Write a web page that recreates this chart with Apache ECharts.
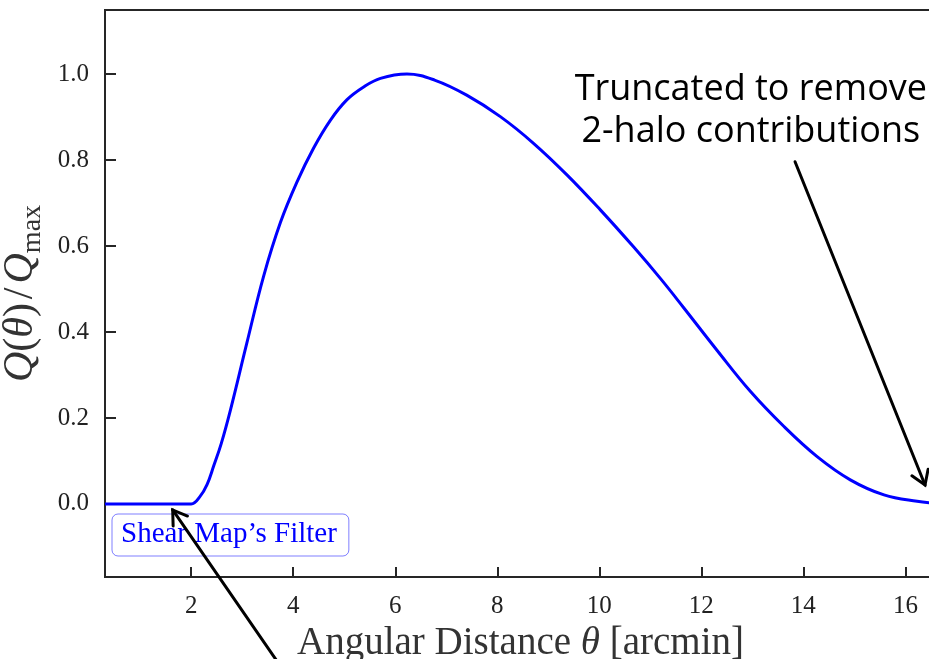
<!DOCTYPE html>
<html>
<head>
<meta charset="utf-8">
<script src="https://cdn.jsdelivr.net/npm/echarts@6/dist/echarts.min.js"></script>
<style>
  html, body { margin: 0; padding: 0; background: #ffffff; }
  #chart { width: 929px; height: 659px; }
</style>
</head>
<body>
<div id="chart"></div>
<script>
// Normalised filter profile Q(theta)/Q_max against angular distance (arcmin)
const theta = [0.31, 1.0, 1.6, 2.0, 2.17, 2.31, 2.44, 2.59, 2.77, 3.09, 3.42, 3.75, 4.07,
               4.40, 4.73, 5.05, 5.38, 5.71, 6.23, 6.77, 7.40, 8.06, 8.71, 9.37, 10.02,
               10.67, 11.20, 11.65, 12.31, 12.96, 13.62, 14.27, 14.92, 15.58, 16.23, 16.6];
const qNorm = [0.0, 0.0, 0.0, 0.0, 0.017, 0.045, 0.088, 0.141, 0.219, 0.374, 0.530, 0.655, 0.748,
               0.828, 0.893, 0.940, 0.970, 0.990, 1.000, 0.986, 0.951, 0.901, 0.839, 0.765, 0.684,
               0.598, 0.524, 0.457, 0.357, 0.262, 0.180, 0.110, 0.056, 0.021, 0.006, 0.002];
const xTicks = [2, 4, 6, 8, 10, 12, 14, 16];
const yTicks = [0.0, 0.2, 0.4, 0.6, 0.8, 1.0];
const seriesName = 'Shear Map\u2019s Filter';

const SERIF = "'Liberation Serif', 'DejaVu Serif', serif";
const SANS = "'Open Sans', 'Noto Sans', sans-serif";
const AXIS_COLOR = '#262626';
const TEXT_COLOR = '#333333';

const chart = echarts.init(document.getElementById('chart'), null, { renderer: 'canvas' });

const option = {
  animation: false,
  backgroundColor: '#ffffff',
  grid: {
    left: 105, top: 10, width: 831, height: 567,
    containLabel: false, outerBoundsMode: 'none',
    show: true, borderColor: AXIS_COLOR, borderWidth: 2, backgroundColor: 'transparent'
  },
  legend: {
    data: [seriesName],
    left: 112, top: 514,
    icon: 'none', itemWidth: 0, itemHeight: 10, itemGap: 0,
    selectedMode: false,
    padding: [6, 12, 7, 4],
    borderColor: 'rgba(0,0,255,0.5)', borderWidth: 1, borderRadius: 6,
    backgroundColor: 'rgba(255,255,255,0.8)',
    textStyle: { color: '#0000ff', fontFamily: SERIF, fontSize: 29 }
  },
  xAxis: {
    type: 'value', min: 0.31, max: 16.6,
    name: '{r|Angular Distance }{i|θ}{r| [arcmin]}',
    nameLocation: 'middle', nameGap: 38,
    nameTextStyle: {
      rich: {
        r: { fontFamily: SERIF, fontSize: 39, color: TEXT_COLOR },
        i: { fontFamily: SERIF, fontSize: 39, fontStyle: 'italic', color: TEXT_COLOR }
      }
    },
    axisLine: { show: true, onZero: false, lineStyle: { color: AXIS_COLOR, width: 2 } },
    axisTick: { show: true, inside: true, length: 10, customValues: xTicks,
                lineStyle: { color: AXIS_COLOR, width: 2 } },
    axisLabel: { customValues: xTicks, margin: 17, fontFamily: SERIF, fontSize: 25,
                 color: '#222222', formatter: v => String(Math.round(v)) },
    splitLine: { show: false }
  },
  yAxis: {
    type: 'value', min: -0.17, max: 1.149,
    name: '{i|Q}{r|(}{i|θ}{r|)}{sl|/}{i|Q}{s|max}',
    nameLocation: 'middle', nameGap: 56, nameRotate: 90,
    nameTextStyle: {
      rich: {
        r: { fontFamily: SERIF, fontSize: 42, color: TEXT_COLOR, lineHeight: 52, verticalAlign: 'middle' },
        sl: { fontFamily: SERIF, fontSize: 42, color: TEXT_COLOR, lineHeight: 52, verticalAlign: 'middle',
              padding: [0, 4, 0, 4] },
        i: { fontFamily: SERIF, fontSize: 42, fontStyle: 'italic', color: TEXT_COLOR, lineHeight: 52, verticalAlign: 'middle' },
        s: { fontFamily: SERIF, fontSize: 28, color: TEXT_COLOR, lineHeight: 27, verticalAlign: 'bottom' }
      }
    },
    axisLine: { show: true, onZero: false, lineStyle: { color: AXIS_COLOR, width: 2 } },
    axisTick: { show: true, inside: true, length: 11, customValues: yTicks,
                lineStyle: { color: AXIS_COLOR, width: 2 } },
    axisLabel: { customValues: yTicks, margin: 16, fontFamily: SERIF, fontSize: 25,
                 color: '#222222', formatter: v => v.toFixed(1) },
    splitLine: { show: false }
  },
  series: [{
    name: seriesName,
    type: 'line',
    data: theta.map((t, i) => [t, qNorm[i]]),
    showSymbol: false,
    smooth: 0.4,
    clip: true,
    lineStyle: { color: '#0000ff', width: 3 },
    itemStyle: { color: '#0000ff' },
    z: 3
  }]
};
chart.setOption(option);

// Annotations, anchored in data coordinates
const noteAnchor = [12.97, 0.914];
const truncArrow = { tail: [13.837, 0.796], tip: [16.385, 0.044] };
const filterArrow = { tail: [3.80, -0.386], tip: [1.637, -0.014] };

function px(p) { return chart.convertToPixel({ gridIndex: 0 }, p); }

function arrow(spec) {
  const a = px(spec.tail), b = px(spec.tip);
  const dx = a[0] - b[0], dy = a[1] - b[1];
  const L = Math.hypot(dx, dy), ux = dx / L, uy = dy / L;
  const len = 16, ang = 33 * Math.PI / 180;
  const rot = (s) => [b[0] + len * (ux * Math.cos(s) - uy * Math.sin(s)),
                      b[1] + len * (ux * Math.sin(s) + uy * Math.cos(s))];
  const style = { stroke: '#000000', lineWidth: 3, fill: null, lineCap: 'round', lineJoin: 'miter' };
  return [
    { type: 'line', z: 100, shape: { x1: a[0], y1: a[1], x2: b[0], y2: b[1] }, style: style },
    { type: 'polyline', z: 100, shape: { points: [rot(ang), b, rot(-ang)] }, style: style }
  ];
}

const np = px(noteAnchor);
chart.setOption({
  graphic: [
    {
      type: 'text', z: 100, x: np[0], y: np[1],
      style: {
        text: 'Truncated to remove\n2-halo contributions',
        fill: '#000000', font: '36px ' + SANS, lineHeight: 42,
        align: 'center', verticalAlign: 'middle'
      }
    }
  ].concat(arrow(truncArrow), arrow(filterArrow))
});
</script>
</body>
</html>
